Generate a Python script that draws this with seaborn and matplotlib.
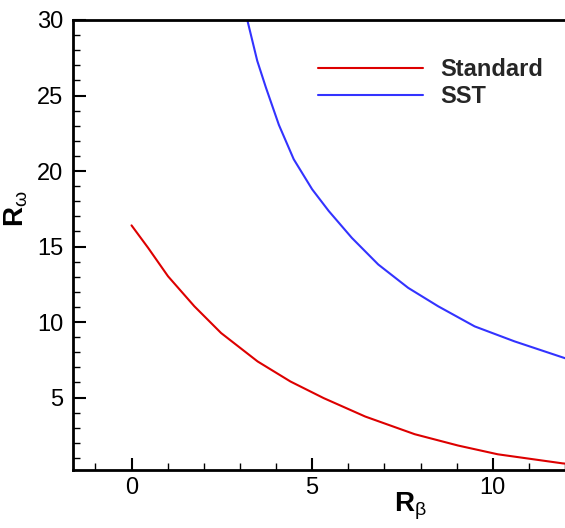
import matplotlib
matplotlib.use("Agg")
import matplotlib.pyplot as plt
import seaborn as sns
import pandas as pd
from matplotlib.ticker import MultipleLocator

sns.set_theme(style="white")
plt.rcParams['font.family'] = ['Liberation Sans', 'DejaVu Sans']
plt.rcParams['mathtext.fontset'] = 'custom'
plt.rcParams['mathtext.rm'] = 'Liberation Sans'
plt.rcParams['mathtext.bf'] = 'Liberation Sans:bold'
plt.rcParams['mathtext.it'] = 'Liberation Sans'

# Data
std_x = [0.0, 0.46, 1.01, 1.74, 2.48, 3.49, 4.40, 5.32, 6.47, 7.84, 9.04, 10.14, 11.93, 12.2]
std_y = [16.40, 14.91, 13.03, 11.04, 9.27, 7.39, 6.06, 4.96, 3.74, 2.57, 1.82, 1.24, 0.64, 0.58]
sst_x = [3.10, 3.21, 3.48, 3.72, 4.08, 4.49, 5.00, 5.46, 6.10, 6.83, 7.66, 8.49, 9.50, 10.6, 11.93, 12.2]
sst_y = [31.0, 29.95, 27.30, 25.53, 23.05, 20.78, 18.79, 17.35, 15.57, 13.81, 12.26, 11.04, 9.71, 8.72, 7.66, 7.45]

df = pd.concat([
    pd.DataFrame({"Rb": std_x, "Rw": std_y, "Model": "Standard"}),
    pd.DataFrame({"Rb": sst_x, "Rw": sst_y, "Model": "SST"}),
])

fig = plt.figure(figsize=(5.65, 5.28), dpi=100)
ax = fig.add_axes([73/565, 1-470/528, 1-73/565, 450/528])

sns.lineplot(data=df, x="Rb", y="Rw", hue="Model", sort=False,
             palette={"Standard": "#dd0000", "SST": "#3333ff"},
             linewidth=1.5, ax=ax, estimator=None)

ax.set_xlim(-1.62, 12.0)
ax.set_ylim(0.2, 30)
ax.xaxis.set_major_locator(MultipleLocator(5))
ax.xaxis.set_minor_locator(MultipleLocator(1))
ax.yaxis.set_major_locator(MultipleLocator(5))
ax.yaxis.set_minor_locator(MultipleLocator(1))
ax.set_yticks([5, 10, 15, 20, 25, 30])

for s in ["left", "bottom", "top"]:
    ax.spines[s].set_visible(True)
    ax.spines[s].set_color("black")
    ax.spines[s].set_linewidth(2)
ax.spines["right"].set_visible(False)

ax.tick_params(which="major", direction="in", length=9, width=1.5,
               labelsize=17, pad=5, colors="black", left=True, bottom=True)
ax.tick_params(which="minor", direction="in", length=5, width=1,
               left=True, bottom=True, colors="black")
ax.tick_params(axis="y", which="major", pad=7)

ax.set_xlabel(r"$\mathbf{R}_{\beta}$", fontsize=20, color="black")
ax.set_ylabel(r"$\mathbf{R}_{\omega}$", fontsize=20, color="black")
ax.xaxis.set_label_coords(0.685, -0.045)
ax.yaxis.set_label_coords(-0.088, 0.58)

leg = ax.legend(loc="upper left", bbox_to_anchor=(0.498, 0.915), frameon=False,
                borderpad=0, borderaxespad=0,
                handlelength=4.45, handletextpad=0.72, labelspacing=0.17,
                prop={"family": "Liberation Sans", "weight": "bold", "size": 17})
ax.grid(False)

fig.savefig("out.png", dpi=100)
